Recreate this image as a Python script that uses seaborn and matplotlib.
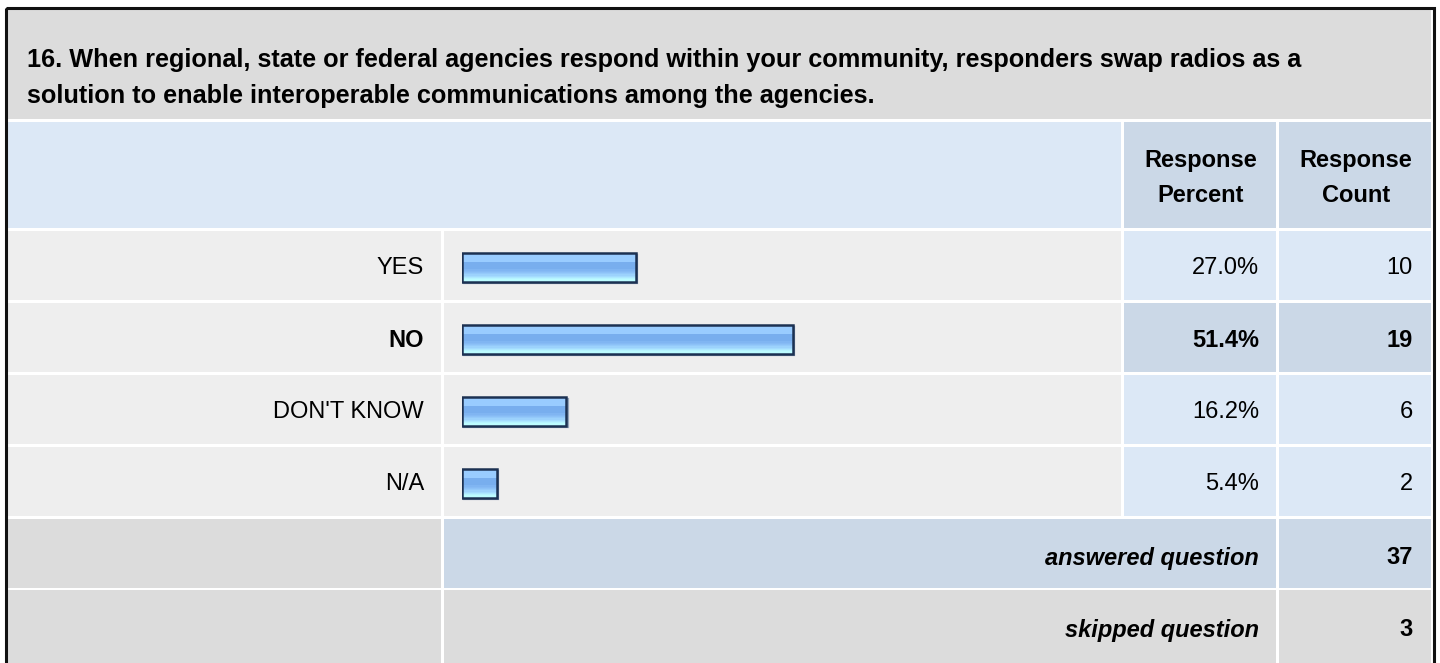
import numpy as np
import pandas as pd
import matplotlib
matplotlib.use("Agg")
import matplotlib.pyplot as plt
from matplotlib.patches import Rectangle
from matplotlib import transforms
from matplotlib.colors import to_rgb
import seaborn as sns

# ---------------------------------------------------------
# Données
# ---------------------------------------------------------
title_lines = [
    "16. When regional, state or federal agencies respond within your community, responders swap radios as a",
    "solution to enable interoperable communications among the agencies.",
]
answers = ["YES", "NO", "DON'T KNOW", "N/A"]
percents = [27.0, 51.4, 16.2, 5.4]
counts = [10, 19, 6, 2]
answered_count = 37
skipped_count = 3

df = pd.DataFrame({"answer": answers, "percent": percents, "count": counts})
best = int(np.argmax(percents))

# ---------------------------------------------------------
# Style
# ---------------------------------------------------------
sns.set_style("white")
plt.rcParams["font.family"] = ["Liberation Sans", "DejaVu Sans"]
plt.rcParams["text.color"] = "black"

GREY_TITLE = "#dcdcdc"
GREY_CELL = "#eeeeee"
BLUE_LIGHT = "#dce8f6"
BLUE_DARK = "#cbd8e7"
FS = 17
FS_TITLE = 18.2

W, H = 1440, 663
fig = plt.figure(figsize=(W / 100, H / 100), dpi=100)
bg = fig.add_axes([0, 0, 1, 1])
bg.set_xlim(0, W)
bg.set_ylim(H, 0)
bg.axis("off")


def cell(x0, y0, x1, y1, color):
    bg.add_patch(Rectangle((x0, y0), x1 - x0, y1 - y0, facecolor=color,
                           edgecolor="none", zorder=1))


# colonnes
LAB = (8, 441)
BAR = (444, 1121)
PCT = (1124, 1276)
CNT = (1279, 1431)

# titre
cell(8, 9, 1431, 119, GREY_TITLE)
bg.text(27, 60, title_lines[0], fontsize=FS_TITLE, fontweight="bold", va="center", zorder=3)
bg.text(27, 96, title_lines[1], fontsize=FS_TITLE, fontweight="bold", va="center", zorder=3)

# en-tête
hy0, hy1 = 122, 228
cell(LAB[0], hy0, BAR[1], hy1, BLUE_LIGHT)
cell(PCT[0], hy0, PCT[1], hy1, BLUE_DARK)
cell(CNT[0], hy0, CNT[1], hy1, BLUE_DARK)
for (x0, x1), word in [(PCT, "Percent"), (CNT, "Count")]:
    bg.text((x0 + x1) / 2 + 1, 178, "Response\n" + word, fontsize=FS, fontweight="bold",
            ha="center", va="center", linespacing=1.68, zorder=3)

# lignes de réponses
pitch = 72
row_top = 231
for i, row in df.iterrows():
    y0 = row_top + i * pitch
    y1 = y0 + pitch - 3
    yc = (y0 + y1) / 2 + 3
    right = BLUE_DARK if i == best else BLUE_LIGHT
    cell(LAB[0], y0, LAB[1], y1, GREY_CELL)
    cell(BAR[0], y0, BAR[1], y1, GREY_CELL)
    cell(PCT[0], y0, PCT[1], y1, right)
    cell(CNT[0], y0, CNT[1], y1, right)
    fw = "bold" if i == best else "normal"
    bg.text(LAB[1] - 17, yc, row["answer"], fontsize=FS, fontweight=fw,
            ha="right", va="center", zorder=3)
    bg.text(PCT[1] - 17, yc, f"{row['percent']:.1f}%", fontsize=FS, fontweight=fw,
            ha="right", va="center", zorder=3)
    bg.text(CNT[1] - 18, yc, f"{row['count']}", fontsize=FS, fontweight=fw,
            ha="right", va="center", zorder=3)

# réponses / sans réponse
ya0 = row_top + 4 * pitch
cell(LAB[0], ya0, LAB[1], ya0 + 69, GREY_TITLE)
cell(BAR[0], ya0, PCT[1], ya0 + 69, BLUE_DARK)
cell(CNT[0], ya0, CNT[1], ya0 + 69, BLUE_DARK)
ys0 = ya0 + 71
cell(LAB[0], ys0, LAB[1], H + 5, GREY_TITLE)
cell(BAR[0], ys0, PCT[1], H + 5, GREY_TITLE)
cell(CNT[0], ys0, CNT[1], H + 5, GREY_TITLE)
for yc, lab, val in [(ya0 + 39, "answered question", answered_count),
                     (ys0 + 40, "skipped question", skipped_count)]:
    bg.text(PCT[1] - 17, yc, lab, fontsize=FS, fontweight="bold", fontstyle="italic",
            ha="right", va="center", zorder=3)
    bg.text(CNT[1] - 18, yc, str(val), fontsize=FS, fontweight="bold",
            ha="right", va="center", zorder=3)

# cadre extérieur
bg.add_patch(Rectangle((5.5, 7.5), 1428, 700, facecolor="none", edgecolor="#111111",
                       linewidth=2.2, zorder=4))

# ---------------------------------------------------------
# Barres (seaborn)
# ---------------------------------------------------------
x_left, x_right = 462, 1105
y_top = 267.5 - pitch / 2
y_bot = y_top + 4 * pitch
axb = fig.add_axes([x_left / W, 1 - y_bot / H, (x_right - x_left) / W, (y_bot - y_top) / H])
axb.patch.set_alpha(0)
sns.barplot(data=df, x="percent", y="answer", orient="h", ax=axb, width=0.39,
            color="#99ccff", edgecolor="#1c3152", linewidth=1.8, errorbar=None)

stops = ["#99ccff"] * 7 + ["#78aeee"] * 6 + ["#80b5f2", "#86baf4", "#8cc1f7", "#94c9fa",
         "#9cd2fc", "#a4dcfe", "#aee8ff", "#b6f4ff", "#bcfcff", "#bcfcff"]
grad = np.array([to_rgb(c) for c in stops])[:, None, :]

shadow_tr = transforms.offset_copy(axb.transData, fig=fig, x=1.5, y=-1.5, units="dots")
for p in list(axb.patches):
    x0, y0, w, h = p.get_x(), p.get_y(), p.get_width(), p.get_height()
    axb.add_patch(Rectangle((x0, y0), w, h, facecolor="#93a3b8", edgecolor="#93a3b8",
                            linewidth=1.6, transform=shadow_tr, zorder=1))
    p.set_facecolor("none")
    p.set_zorder(3)
    im = axb.imshow(grad, extent=[x0, x0 + w, y0 + h, y0], aspect="auto",
                    interpolation="nearest", zorder=2)
    im.set_clip_path(p)

axb.set_xlim(0, 100)
axb.set_ylim(3.5, -0.5)
axb.axis("off")

fig.savefig("out.png", dpi=100)
